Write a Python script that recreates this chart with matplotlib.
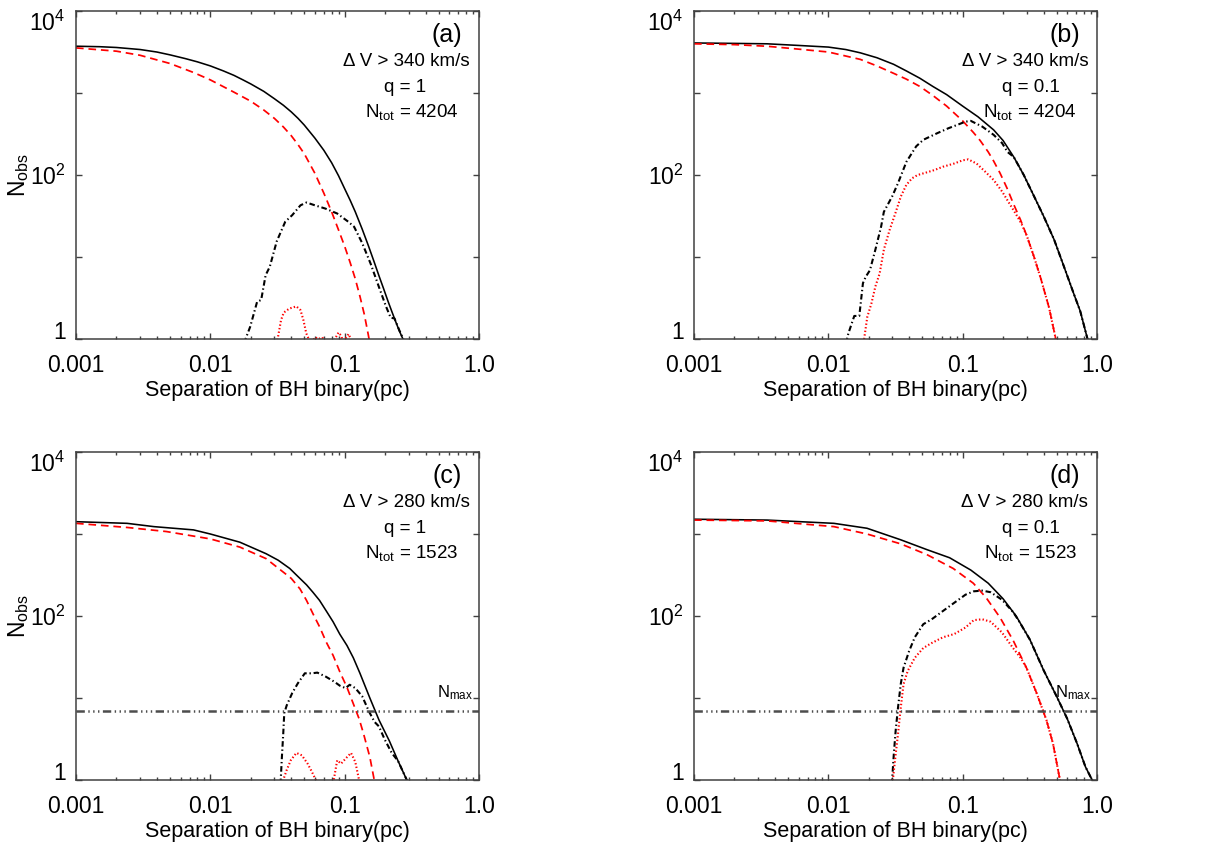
import matplotlib
matplotlib.use("Agg")
import matplotlib.pyplot as plt
from matplotlib.ticker import FixedLocator, NullFormatter, FixedFormatter

plt.rcParams['font.family'] = ['Liberation Sans', 'DejaVu Sans']
plt.rcParams['mathtext.fontset'] = 'custom'
plt.rcParams['mathtext.rm'] = 'Liberation Sans'
plt.rcParams['mathtext.it'] = 'Liberation Sans:italic'
plt.rcParams['mathtext.bf'] = 'Liberation Sans:bold'
plt.rcParams['lines.scale_dashes'] = False

# ---------------- data ----------------
# panel (a)
solid_a_x = [0.001, 0.0015, 0.002, 0.003, 0.004, 0.005, 0.0065, 0.008, 0.01, 0.0125, 0.015, 0.0175, 0.02, 0.025, 0.03, 0.035, 0.04, 0.045, 0.05, 0.06, 0.07, 0.08, 0.09, 0.1, 0.11, 0.12, 0.135, 0.15, 0.165, 0.18, 0.195, 0.21, 0.225, 0.24, 0.255, 0.27, 0.29]
solid_a_y = [3720, 3670, 3590, 3390, 3160, 2920, 2630, 2400, 2140, 1860, 1640, 1445, 1290, 1047, 851, 708, 589, 490, 407, 282, 200, 141, 98, 68, 49, 35.5, 21.9, 13.8, 8.9, 5.9, 4.1, 2.9, 2.14, 1.62, 1.26, 1.02, 0.79]
dashed_a_x = [0.001, 0.002, 0.003, 0.005, 0.0075, 0.01, 0.015, 0.02, 0.025, 0.03, 0.035, 0.04, 0.045, 0.05, 0.06, 0.07, 0.08, 0.09, 0.1, 0.11, 0.12, 0.13, 0.14, 0.15, 0.16]
dashed_a_y = [3548, 3236, 2884, 2291, 1778, 1445, 1023, 794, 620, 490, 385, 302, 234, 182, 105, 60, 35.5, 21.4, 13.5, 8.5, 5.4, 3.3, 2.0, 1.12, 0.63]
dashdot_a_x = [0.0178, 0.0198, 0.0223, 0.0239, 0.0258, 0.0277, 0.0312, 0.0361, 0.0407, 0.0469, 0.052, 0.06, 0.072, 0.088, 0.1065, 0.1175, 0.135, 0.156, 0.18, 0.203, 0.22, 0.235, 0.255, 0.273, 0.29]
dashdot_a_y = [0.89, 1.41, 2.85, 2.99, 6.0, 7.6, 15.5, 26.9, 32.4, 42.7, 46.2, 42.7, 38.9, 33.9, 26.9, 23.4, 14.8, 8.3, 4.3, 2.5, 1.82, 1.78, 1.28, 1.0, 0.79]
dotted_a_x = [0.0305, 0.0317, 0.0336, 0.0352, 0.0387, 0.0437, 0.0469, 0.0493, 0.0518, 0.054, 0.057, 0.06, 0.064, 0.068, 0.072, 0.08, 0.086, 0.09, 0.094, 0.098, 0.103, 0.107, 0.111, 0.115]
dotted_a_y = [0.8, 1.0, 1.7, 2.1, 2.35, 2.5, 2.25, 1.7, 1.17, 1.0, 0.9, 1.05, 1.0, 1.05, 0.9, 0.85, 1.05, 1.2, 1.1, 0.9, 1.05, 1.15, 1.0, 0.8]

# panel (b)
solid_b_x = [0.001, 0.002, 0.0035, 0.006, 0.01, 0.0135, 0.0173, 0.023, 0.0306, 0.038, 0.048, 0.06, 0.076, 0.1, 0.13, 0.17, 0.2, 0.24, 0.285, 0.34, 0.4, 0.48, 0.565, 0.67, 0.75, 0.85, 0.95]
solid_b_y = [4074, 4027, 3981, 3802, 3631, 3388, 3090, 2692, 2239, 1862, 1514, 1202, 955, 692, 513, 355, 263, 166, 100, 55, 31.6, 16.2, 7.8, 3.6, 2.19, 1.0, 0.63]
dashed_b_x = [0.001, 0.002, 0.0035, 0.006, 0.01, 0.0173, 0.023, 0.0306, 0.038, 0.048, 0.06, 0.076, 0.1, 0.12, 0.135, 0.155, 0.17, 0.19, 0.214, 0.24, 0.27, 0.3, 0.34, 0.38, 0.44, 0.49, 0.52]
dashed_b_y = [3981, 3890, 3715, 3428, 3162, 2570, 2138, 1738, 1479, 1202, 933, 692, 457, 331, 263, 191, 148, 105, 69, 43.7, 28.2, 18.2, 10, 5.6, 2.4, 1.05, 0.63]
dashdot_b_x = [0.01355, 0.0141, 0.0156, 0.017, 0.0181, 0.019, 0.0204, 0.0224, 0.0247, 0.0259, 0.0299, 0.033, 0.0381, 0.0451, 0.051, 0.0648, 0.0784, 0.0906, 0.1048, 0.115, 0.14, 0.17, 0.1965, 0.216, 0.24, 0.285, 0.34, 0.4, 0.48, 0.565, 0.67, 0.75, 0.85, 0.95]
dashdot_b_y = [0.89, 1.17, 1.91, 1.91, 4.8, 5.75, 6.9, 12.3, 23.4, 35.5, 55, 79.4, 144.5, 224, 269, 324, 372, 407, 447, 457, 389, 309, 245, 190.5, 166, 100, 55, 31.6, 16.2, 7.8, 3.6, 2.19, 1.0, 0.63]
dotted_b_x = [0.0183, 0.0195, 0.0209, 0.0224, 0.0241, 0.0259, 0.0286, 0.0315, 0.0347, 0.0381, 0.042, 0.0462, 0.0534, 0.0617, 0.0712, 0.0864, 0.1, 0.11, 0.127, 0.147, 0.17, 0.1965, 0.227, 0.25, 0.275, 0.3, 0.34, 0.38, 0.44, 0.49, 0.52]
dotted_b_y = [0.9, 1.86, 2.69, 4.37, 6.3, 12.3, 21.4, 33.9, 55, 75.9, 91.2, 100, 107, 115, 126, 138, 151, 155, 138, 110, 87, 63, 42.7, 33.1, 25.1, 18.2, 10, 5.6, 2.4, 1.05, 0.63]

# panel (c)
solid_c_x = [0.001, 0.0024, 0.0038, 0.0075, 0.01, 0.0166, 0.026, 0.032, 0.039, 0.045, 0.052, 0.058, 0.065, 0.073, 0.082, 0.092, 0.104, 0.116, 0.13, 0.154, 0.18, 0.215, 0.25, 0.29, 0.32]
solid_c_y = [1413, 1349, 1230, 1122, 1000, 794, 575, 479, 380, 302, 240, 195, 155, 115, 85, 60, 43.7, 30.9, 20, 10, 5.4, 3.0, 1.7, 1.0, 0.71]
dashed_c_x = [0.001, 0.0024, 0.0047, 0.01, 0.0166, 0.026, 0.0334, 0.04, 0.0465, 0.052, 0.058, 0.065, 0.073, 0.082, 0.092, 0.104, 0.116, 0.128, 0.138, 0.154, 0.166, 0.175]
dashed_c_y = [1349, 1202, 1072, 871, 692, 501, 363, 288, 214, 155, 107, 74, 47.9, 33.1, 20.9, 13.5, 8.5, 5.6, 3.7, 1.9, 1.0, 0.63]
dashdot_c_x = [0.0333, 0.0341, 0.0349, 0.0355, 0.037, 0.0407, 0.0448, 0.0505, 0.057, 0.0626, 0.0724, 0.0837, 0.0922, 0.1015, 0.109, 0.12, 0.135, 0.152, 0.167, 0.18, 0.199, 0.224, 0.25, 0.29, 0.32]
dashdot_c_y = [0.89, 1.91, 3.7, 6.5, 8.1, 11.5, 15.1, 20, 20, 20.4, 18.2, 15.8, 14.1, 13.2, 14.5, 13.2, 10.5, 6.8, 5.1, 4.5, 3.1, 2.14, 1.7, 1.0, 0.71]
dotted_c_x = [0.0345, 0.0349, 0.037, 0.0397, 0.0437, 0.048, 0.053, 0.057, 0.061, 0.07, 0.082, 0.085, 0.088, 0.094, 0.1015, 0.1115, 0.12, 0.128, 0.132]
dotted_c_y = [0.79, 1.0, 1.32, 1.74, 2.14, 2.0, 1.58, 1.26, 1.0, 0.5, 0.89, 1.26, 1.74, 1.58, 1.82, 2.14, 1.66, 1.0, 0.79]

# panel (d)
solid_d_x = [0.001, 0.0035, 0.011, 0.0194, 0.0345, 0.054, 0.08, 0.115, 0.155, 0.2, 0.25, 0.317, 0.4, 0.5, 0.6, 0.71, 0.82, 0.92, 1.0]
solid_d_y = [1514, 1479, 1349, 1175, 851, 646, 513, 363, 251, 162, 100, 51.3, 21.9, 10.5, 5.6, 2.8, 1.45, 1.0, 0.76]
dashed_d_x = [0.001, 0.0035, 0.011, 0.0194, 0.0345, 0.054, 0.085, 0.12, 0.15, 0.19, 0.238, 0.3, 0.355, 0.42, 0.47, 0.53, 0.56]
dashed_d_y = [1479, 1445, 1230, 1000, 759, 562, 380, 251, 166, 95.5, 50.1, 22.9, 11.5, 5.4, 2.8, 1.0, 0.63]
dashdot_d_x = [0.0297, 0.0307, 0.0317, 0.033, 0.0346, 0.0363, 0.0399, 0.044, 0.0509, 0.0588, 0.0713, 0.0866, 0.105, 0.121, 0.14, 0.1615, 0.196, 0.237, 0.26, 0.317, 0.4, 0.5, 0.6, 0.71, 0.82, 0.92, 1.0]
dashdot_d_y = [0.89, 2.04, 3.98, 7.6, 14.8, 23.4, 37.2, 55, 79.4, 91.2, 115, 145, 182, 200, 204, 195, 158, 112, 89, 51.3, 21.9, 10.5, 5.6, 2.8, 1.45, 1.0, 0.76]
dotted_d_x = [0.030, 0.0315, 0.033, 0.0346, 0.0363, 0.039, 0.044, 0.0509, 0.0588, 0.0713, 0.0866, 0.105, 0.121, 0.14, 0.1615, 0.196, 0.237, 0.273, 0.3, 0.355, 0.42, 0.47, 0.53, 0.56]
dotted_d_y = [0.89, 1.86, 3.63, 7.6, 14.8, 21.4, 30.9, 40.7, 46.8, 55, 60.3, 72.4, 89.1, 91.2, 85.1, 63.1, 40.7, 30.2, 22.9, 11.5, 5.4, 2.8, 1.0, 0.63]

n_max = 7.0

panel_labels = ['(a)', '(b)', '(c)', '(d)']
dv_labels = ['Δ V > 340 km/s', 'Δ V > 340 km/s', 'Δ V > 280 km/s', 'Δ V > 280 km/s']
q_labels = ['q = 1', 'q = 0.1', 'q = 1', 'q = 0.1']
ntot_values = [4204, 4204, 1523, 1523]

x_ticks = [0.001, 0.01, 0.1, 1.0]
x_ticklabels = ['0.001', '0.01', '0.1', '1.0']
y_ticks = [1, 10, 100, 1000, 10000]
y_ticklabels = ['1', '', r'$\mathregular{10^2}$', '', r'$\mathregular{10^4}$']

panels = [
    (solid_a_x, solid_a_y, dashed_a_x, dashed_a_y, dashdot_a_x, dashdot_a_y, dotted_a_x, dotted_a_y, False),
    (solid_b_x, solid_b_y, dashed_b_x, dashed_b_y, dashdot_b_x, dashdot_b_y, dotted_b_x, dotted_b_y, False),
    (solid_c_x, solid_c_y, dashed_c_x, dashed_c_y, dashdot_c_x, dashdot_c_y, dotted_c_x, dotted_c_y, True),
    (solid_d_x, solid_d_y, dashed_d_x, dashed_d_y, dashdot_d_x, dashdot_d_y, dotted_d_x, dotted_d_y, True),
]

# ---------------- figure ----------------
W, H = 1220, 846
fig = plt.figure(figsize=(W / 100, H / 100), dpi=100)

ax_px = [(76, 11), (694, 11), (76, 452), (694, 452)]
aw, ah = 403, 328

dv_x = [0.82, 0.821, 0.82, 0.821]
q_x = [0.816, 0.836, 0.816, 0.836]
nt_x = [0.833, 0.834, 0.833, 0.834]

axes = []
for i, (sx, sy, dx, dy, ddx, ddy, ox, oy, show_nmax) in enumerate(panels):
    l, t = ax_px[i]
    ax = fig.add_axes([l / W, 1 - (t + ah) / H, aw / W, ah / H])
    axes.append(ax)
    ax.set_xscale('log')
    ax.set_yscale('log')
    ax.set_xlim(0.001, 1.0)
    ax.set_ylim(1, 10000)

    ax.plot(sx, sy, color='black', lw=1.15, solid_joinstyle='round')
    ax.plot(dx, dy, color='#ff0000', lw=1.25, dashes=(5.5, 3.5))
    ax.plot(ddx, ddy, color='black', lw=1.5, dashes=(4.0, 2.0, 1.0, 2.0))
    ax.plot(ox, oy, color='#ff0000', lw=1.5, dashes=(1.0, 1.6))

    if show_nmax:
        ax.axhline(n_max, color='0.3', lw=1.8, dashes=(6, 2.5, 1, 2.5, 1, 2.5, 1, 2.5))
        ax.text(0.94, 0.265, r'N$_{\mathregular{max}}$', transform=ax.transAxes,
                ha='center', va='center', fontsize=12)

    ax.xaxis.set_major_locator(FixedLocator(x_ticks))
    ax.xaxis.set_major_formatter(FixedFormatter(x_ticklabels))
    minors = [m * 10.0 ** e for e in (-3, -2, -1) for m in range(2, 10)]
    ax.xaxis.set_minor_locator(FixedLocator(minors))
    ax.xaxis.set_minor_formatter(NullFormatter())
    ax.yaxis.set_major_locator(FixedLocator(y_ticks))
    ax.yaxis.set_major_formatter(FixedFormatter(y_ticklabels))
    ax.yaxis.set_minor_locator(FixedLocator([]))

    ax.tick_params(which='both', direction='in', top=True, right=True, color='0.25', width=1.0)
    ax.tick_params(which='major', length=4.5)
    ax.tick_params(which='minor', length=2.3)
    ax.tick_params(axis='x', which='major', labelsize=16.5, pad=11)
    ax.tick_params(axis='y', which='major', labelsize=16.5, pad=7.5)
    for sp in ax.spines.values():
        sp.set_color('0.25')
        sp.set_linewidth(1.1)

    ax.set_xlabel('Separation of BH binary(pc)', fontsize=15.5, labelpad=2)
    if i % 2 == 0:
        ax.set_ylabel(r'N$_{\mathregular{obs}}$', fontsize=16.5)
        ax.yaxis.set_label_coords(-0.112, 0.5)

    ax.text(0.92, 0.927, panel_labels[i], transform=ax.transAxes, ha='center', va='center', fontsize=18)
    ax.text(dv_x[i], 0.845, dv_labels[i], transform=ax.transAxes, ha='center', va='center', fontsize=13.5)
    ax.text(q_x[i], 0.768, q_labels[i], transform=ax.transAxes, ha='center', va='center', fontsize=13.5)
    ax.text(nt_x[i], 0.692, r'N$_{\mathregular{tot}}$ = %d' % ntot_values[i], transform=ax.transAxes,
            ha='center', va='center', fontsize=13.5)

fig.canvas.draw()
for ax in axes:
    labs = ax.yaxis.get_majorticklabels()
    labs[0].set_verticalalignment('baseline')
    labs[-1].set_verticalalignment('top')

fig.savefig('out.png', dpi=100)
